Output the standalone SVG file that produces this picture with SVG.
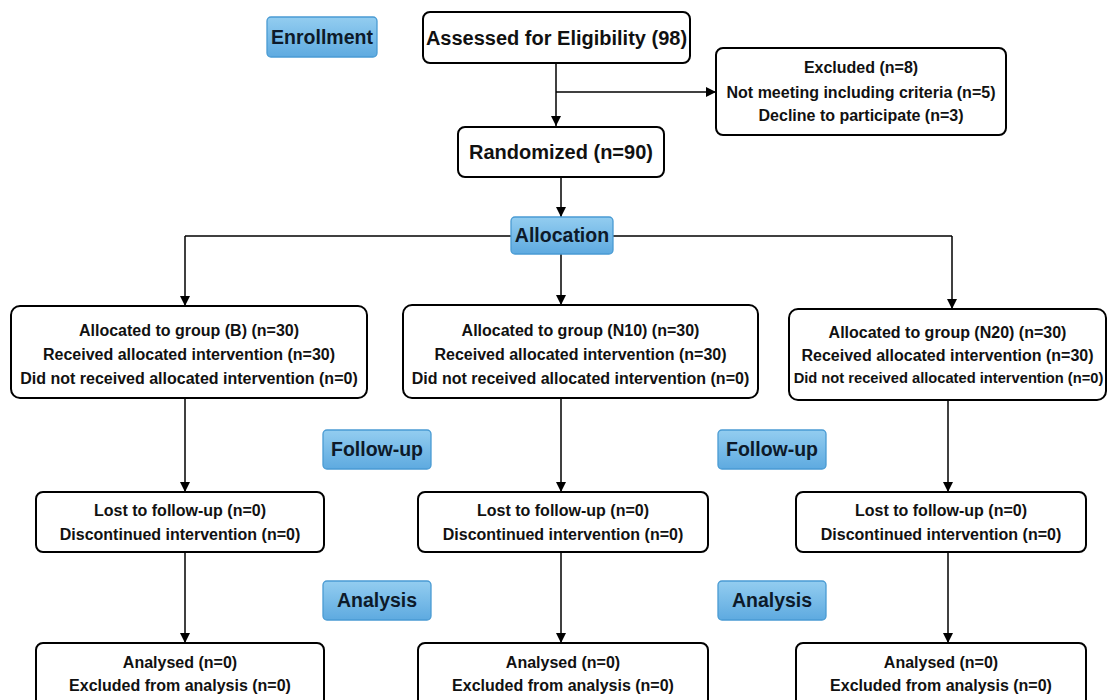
<svg xmlns="http://www.w3.org/2000/svg" width="1108" height="700" viewBox="0 0 1108 700">
<defs>
<linearGradient id="lab" x1="0" y1="0" x2="0" y2="1">
<stop offset="0" stop-color="#93cdf0"/>
<stop offset="1" stop-color="#5eaae0"/>
</linearGradient>
<marker id="arr" viewBox="0 0 10 10" refX="10" refY="5" markerWidth="10" markerHeight="10" markerUnits="userSpaceOnUse" orient="auto">
<path d="M0,0 L10,5 L0,10 z" fill="#000"/>
</marker>
<style>
.box{fill:#fff;stroke:#000;stroke-width:2}
.lab{fill:url(#lab);stroke:#4a9bd3;stroke-width:1.3}
.t{font-family:"Liberation Sans",Arial,sans-serif;font-weight:bold;text-anchor:middle;fill:#111}
.big{font-size:20px}
.lt{font-size:19.5px;fill:#0d1a2a}
.s{font-size:16px}
.c{fill:none;stroke:#000;stroke-width:1.5}
</style>
</defs>
<rect width="1108" height="700" fill="#fff"/>
<g id="connectors">
<path class="c" d="M556,63 V126" marker-end="url(#arr)"/>
<path class="c" d="M556,92 H716" marker-end="url(#arr)"/>
<path class="c" d="M561,177 V217" marker-end="url(#arr)"/>
<path class="c" d="M185,236 H952"/>
<path class="c" d="M185,236 V306" marker-end="url(#arr)"/>
<path class="c" d="M561,254 V305" marker-end="url(#arr)"/>
<path class="c" d="M952,236 V309" marker-end="url(#arr)"/>
<path class="c" d="M185,398 V492" marker-end="url(#arr)"/>
<path class="c" d="M561,398 V492" marker-end="url(#arr)"/>
<path class="c" d="M948,400 V492" marker-end="url(#arr)"/>
<path class="c" d="M185,552 V643" marker-end="url(#arr)"/>
<path class="c" d="M561,552 V643" marker-end="url(#arr)"/>
<path class="c" d="M948,552 V643" marker-end="url(#arr)"/>
</g>
<g id="enrollment">
<rect class="lab" x="267" y="17" width="110" height="40" rx="4"/>
<text class="t lt" x="322" y="44">Enrollment</text>
</g>
<g id="assessed">
<rect class="box" x="423" y="12" width="267" height="51" rx="7"/>
<text class="t big" x="556.5" y="44.5">Assessed for Eligibility (98)</text>
</g>
<g id="excluded">
<rect class="box" x="716" y="48" width="290" height="87" rx="7"/>
<text class="t s" x="861" y="73">Excluded (n=8)</text>
<text class="t s" x="861" y="98">Not meeting including criteria (n=5)</text>
<text class="t s" x="861" y="121">Decline to participate (n=3)</text>
</g>
<g id="randomized">
<rect class="box" x="458" y="127" width="206" height="50" rx="7"/>
<text class="t big" x="561" y="159">Randomized (n=90)</text>
</g>
<g id="allocation">
<rect class="lab" x="511" y="217" width="102" height="37" rx="4"/>
<text class="t lt" x="562" y="242">Allocation</text>
</g>
<g id="groupB">
<rect class="box" x="11" y="306" width="356" height="92" rx="9"/>
<text class="t s" x="189" y="336">Allocated to group (B) (n=30)</text>
<text class="t s" x="189" y="360">Received allocated intervention (n=30)</text>
<text class="t s" x="189" y="384">Did not received allocated intervention (n=0)</text>
</g>
<g id="groupN10">
<rect class="box" x="403" y="305" width="355" height="93" rx="9"/>
<text class="t s" x="580.5" y="336">Allocated to group (N10) (n=30)</text>
<text class="t s" x="580.5" y="360">Received allocated intervention (n=30)</text>
<text class="t s" x="580.5" y="384">Did not received allocated intervention (n=0)</text>
</g>
<g id="groupN20">
<rect class="box" x="789" y="309" width="317" height="91" rx="9"/>
<text class="t s" x="947.5" y="338">Allocated to group (N20) (n=30)</text>
<text class="t s" x="947.5" y="361">Received allocated intervention (n=30)</text>
<text class="t" x="948.5" y="383" font-size="14.7">Did not received allocated intervention (n=0)</text>
</g>
<g id="followup1">
<rect class="lab" x="323" y="430" width="108" height="39" rx="4"/>
<text class="t lt" x="377" y="456">Follow-up</text>
</g>
<g id="followup2">
<rect class="lab" x="718" y="430" width="108" height="39" rx="4"/>
<text class="t lt" x="772" y="456">Follow-up</text>
</g>
<g id="lostB">
<rect class="box" x="36" y="492" width="288" height="60" rx="7"/>
<text class="t s" x="180" y="516">Lost to follow-up (n=0)</text>
<text class="t s" x="180" y="540">Discontinued intervention (n=0)</text>
</g>
<g id="lostN10">
<rect class="box" x="418" y="492" width="290" height="60" rx="7"/>
<text class="t s" x="563" y="516">Lost to follow-up (n=0)</text>
<text class="t s" x="563" y="540">Discontinued intervention (n=0)</text>
</g>
<g id="lostN20">
<rect class="box" x="796" y="492" width="290" height="60" rx="7"/>
<text class="t s" x="941" y="516">Lost to follow-up (n=0)</text>
<text class="t s" x="941" y="540">Discontinued intervention (n=0)</text>
</g>
<g id="analysis1">
<rect class="lab" x="323" y="581" width="108" height="39" rx="4"/>
<text class="t lt" x="377" y="607">Analysis</text>
</g>
<g id="analysis2">
<rect class="lab" x="718" y="581" width="108" height="39" rx="4"/>
<text class="t lt" x="772" y="607">Analysis</text>
</g>
<g id="analysedB">
<rect class="box" x="36" y="643" width="288" height="70" rx="7"/>
<text class="t s" x="180" y="668">Analysed (n=0)</text>
<text class="t s" x="180" y="691">Excluded from analysis (n=0)</text>
</g>
<g id="analysedN10">
<rect class="box" x="418" y="643" width="290" height="70" rx="7"/>
<text class="t s" x="563" y="668">Analysed (n=0)</text>
<text class="t s" x="563" y="691">Excluded from analysis (n=0)</text>
</g>
<g id="analysedN20">
<rect class="box" x="796" y="643" width="290" height="70" rx="7"/>
<text class="t s" x="941" y="668">Analysed (n=0)</text>
<text class="t s" x="941" y="691">Excluded from analysis (n=0)</text>
</g>
</svg>
